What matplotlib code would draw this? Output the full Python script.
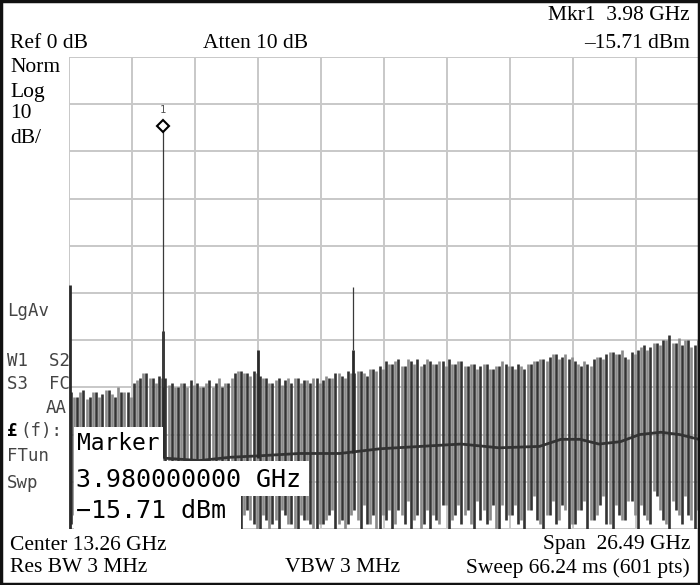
import matplotlib
matplotlib.use("Agg")
import matplotlib.pyplot as plt
from matplotlib.patches import Rectangle
import matplotlib.transforms as mtransforms

W, H = 700, 585

# ---- instrument settings ----
center_ghz = 13.26
span_ghz = 26.49
ref_db = 0.0
db_per_div = 10.0
n_div = 10

# ---- marker ----
mkr_freq = 3.98
mkr_level = -15.71

# ---- noise trace tops / bottoms (dB), 100 bars per trace ----
dark_top = [-71, -72, -70.5, -72, -71, -71.5, -70.5, -72, -71, -71,
            -69, -68, -67, -68, -67.5, -68, -69, -70, -69, -68.5,
            -69, -70, -68.5, -69, -70, -69, -67, -66.5, -67, -66.5,
            -67.5, -68, -69, -68, -68.5, -69, -68, -68.5, -69, -68,
            -68.5, -68, -67, -67.5, -66.5, -67, -66.5, -67.5, -66, -65.5,
            -64.5, -65, -64, -65.5, -64.5, -64, -65, -64.5, -65, -64.5,
            -64, -65, -64.5, -65.5, -65, -65.5, -65, -66, -65.5, -65,
            -65.5, -65, -66, -65, -64.5, -64, -63.5, -63, -63.5, -64,
            -64.5, -65.5, -65, -64, -63.5, -63, -62.5, -63, -63.5, -62.5,
            -62, -61, -61.5, -60.5, -60, -59, -60.5, -61, -60, -61]
gray_top = [-72, -71, -72.5, -71, -72, -70.5, -71.5, -70, -71, -72,
            -68.5, -67, -68, -69, -68, -69.5, -70, -69, -70, -69.5,
            -70, -69, -70, -68, -69, -68, -66.5, -67, -67.5, -67,
            -68, -69, -68.5, -69.5, -68, -68, -69, -68.5, -68, -69,
            -67.5, -68, -67, -68, -67, -66.5, -67, -66, -66.5, -66,
            -65, -64.5, -65.5, -64, -65, -65.5, -64, -65, -64.5, -65.5,
            -65, -64.5, -65.5, -65, -66, -65, -66, -65.5, -64.5, -65.5,
            -66, -65.5, -65, -64.5, -64, -64.5, -63, -64, -63, -63.5,
            -65, -64.5, -65.5, -63.5, -64, -62.5, -63, -62, -64, -63,
            -61.5, -62, -60.5, -61, -60, -60.5, -59.5, -60, -61.5, -60]
dark_bot = [-99, -100, -98, -100, -99, -100, -97, -100, -99, -98,
            -100, -99, -98, -100, -99, -97, -100, -98, -99, -100,
            -98, -100, -99, -97, -100, -99, -98, -100, -96, -99,
            -100, -98, -99, -100, -97, -99, -100, -98, -99, -100,
            -99, -97, -100, -98, -99, -96, -100, -99, -97, -100,
            -98, -100, -96, -99, -100, -97, -99, -100, -98, -95,
            -100, -97, -99, -96, -100, -98, -99, -95, -100, -98,
            -97, -99, -100, -96, -98, -100, -97, -99, -95, -100,
            -99, -96, -100, -98, -95, -99, -100, -97, -98, -94,
            -100, -97, -99, -93, -98, -100, -96, -99, -97, -100]
gray_bot = [-97, -99, -100, -98, -99, -97, -100, -98, -99, -100,
            -98, -100, -97, -99, -98, -100, -99, -97, -100, -98,
            -99, -97, -100, -98, -96, -100, -99, -97, -98, -100,
            -97, -100, -98, -96, -99, -100, -97, -98, -100, -99,
            -98, -96, -99, -100, -97, -98, -95, -99, -100, -97,
            -96, -99, -97, -94, -98, -100, -96, -97, -99, -95,
            -98, -95, -97, -99, -94, -96, -98, -100, -95, -97,
            -95, -98, -96, -93, -99, -97, -94, -98, -96, -99,
            -96, -94, -98, -97, -93, -99, -95, -98, -94, -97,
            -95, -98, -92, -96, -99, -94, -97, -93, -98, -96]

# ---- dark mid-level band (averaged trace) ----
mid_freq = [4.05, 5.5, 6.8, 8.0, 9.7, 11.4, 13.1, 14.8, 16.5, 18.1,
            19.8, 20.7, 21.5, 22.3, 23.2, 24.0, 24.9, 25.7, 26.5]
mid_level = [-85, -85.5, -84.8, -84.5, -84, -84, -83, -82.5, -82, -82.8,
             -82.5, -81, -81, -82, -81.5, -80, -79.5, -80, -81]

# ---- discrete spurs / harmonics ----
spur_freq = [0.06, 3.98, 7.96, 11.94]
spur_top_thick = [-48.4, -58, -62, -62]
spur_bot_thick = [-100, -85, -85, -84]
thin_freq = [3.98, 11.94]
thin_top = [-15.71, -48.8]
thin_bot = [-70, -62]

# ---------------------------------------------------------------
fig = plt.figure(figsize=(W / 100, H / 100), dpi=100)
fig.patch.set_facecolor("white")

def fx(x):
    return x / W

def fy(y):
    return 1 - y / H

ax_l, ax_r, ax_t, ax_b = 69, 699, 57, 529
ax = fig.add_axes([fx(ax_l), fy(ax_b), (ax_r - ax_l) / W, (ax_b - ax_t) / H])
f0 = center_ghz - span_ghz / 2
f1 = center_ghz + span_ghz / 2
ax.set_xlim(f0, f1)
ax.set_ylim(ref_db - n_div * db_per_div, ref_db)
ax.set_xticks([f0 + i * span_ghz / n_div for i in range(n_div + 1)])
ax.set_yticks([ref_db - i * db_per_div for i in range(n_div + 1)])
ax.tick_params(length=0, labelbottom=False, labelleft=False)
for s in ax.spines.values():
    s.set_visible(False)
ax.grid(True, color="#c8c8c8", linewidth=1.4, zorder=0)
ax.set_axisbelow(True)

step = span_ghz / len(dark_top)
xd = [f0 + (k + 0.3) * step for k in range(len(dark_top))]
xg = [f0 + (k + 0.8) * step for k in range(len(gray_top))]
ax.vlines(xg, gray_bot, gray_top, color="#8a8a8a", linewidth=1.9, zorder=2)
ax.plot(mid_freq, mid_level, color="#333333", linewidth=2.0, zorder=2.5)
ax.vlines(xd, dark_bot, dark_top, color="#333333", linewidth=1.9, zorder=3)
ax.vlines(spur_freq, spur_bot_thick, spur_top_thick, color="#2a2a2a", linewidth=2.0, zorder=4)
ax.vlines(thin_freq, thin_bot, thin_top, color="#3a3a3a", linewidth=0.9, zorder=4)

# marker diamond and label
off = mtransforms.offset_copy(ax.transData, fig=fig, x=0, y=5, units="dots")
ax.plot([mkr_freq], [mkr_level], marker="D", markersize=6.5, markerfacecolor="white",
        markeredgecolor="black", markeredgewidth=1.5, transform=off, zorder=6,
        clip_on=False)
off2 = mtransforms.offset_copy(ax.transData, fig=fig, x=0, y=21, units="dots")
ax.text(mkr_freq, mkr_level, "1", transform=off2, ha="center", va="center",
        fontsize=7.5, color="#555555", family="DejaVu Sans Mono", zorder=6)

# ---- marker readout box ----
box_specs = [(74, 427, 163, 461), (74, 461, 309, 496), (74, 496, 241, 529)]
for (x0, y0, x1, y1) in box_specs:
    fig.add_artist(Rectangle((fx(x0), fy(y1)), (x1 - x0) / W, (y1 - y0) / H,
                             transform=fig.transFigure, facecolor="white",
                             edgecolor="none", zorder=10))
mono = "DejaVu Sans Mono"
fig.text(fx(77), fy(444), "Marker", fontsize=16.5, family=mono, va="center",
         ha="left", color="black", zorder=11)
fig.text(fx(76), fy(480), "3.980000000 GHz", fontsize=18, family=mono, va="center",
         ha="left", color="black", zorder=11)
fig.text(fx(76), fy(511), "\u221215.71 dBm", fontsize=18, family=mono, va="center",
         ha="left", color="black", zorder=11)

# ---- annotation texts (serif) ----
serif = "Liberation Serif"
fs = 15.5
fig.text(fx(690), fy(16), "Mkr1  3.98 GHz", fontsize=fs, family=serif, ha="right", va="center")
fig.text(fx(690), fy(43), "\u201315.71 dBm", fontsize=fs, family=serif, ha="right", va="center")
fig.text(fx(10), fy(43), "Ref 0 dB", fontsize=fs, family=serif, ha="left", va="center")
fig.text(fx(203), fy(43), "Atten 10 dB", fontsize=fs, family=serif, ha="left", va="center")
for lbl, yy in [("Norm", 68), ("Log", 92), ("10", 114), ("dB/", 138)]:
    fig.text(fx(10), fy(yy), lbl, fontsize=fs, family=serif, ha="left", va="center")
fig.text(fx(10), fy(545), "Center 13.26 GHz", fontsize=fs, family=serif, ha="left", va="center")
fig.text(fx(690), fy(545), "Span  26.49 GHz", fontsize=fs, family=serif, ha="right", va="center")
fig.text(fx(10), fy(568), "Res BW 3 MHz", fontsize=fs, family=serif, ha="left", va="center")
fig.text(fx(285), fy(568), "VBW 3 MHz", fontsize=fs, family=serif, ha="left", va="center")
fig.text(fx(690), fy(568), "Sweep 66.24 ms (601 pts)", fontsize=fs, family=serif, ha="right", va="center")

# ---- left status labels (instrument mono font) ----
side_col = "#444444"
sfs = 12.5
fig.text(fx(7), fy(311), "LgAv", fontsize=sfs, family=mono, color=side_col, va="center")
fig.text(fx(7), fy(361), "W1  S2", fontsize=sfs, family=mono, color=side_col, va="center")
fig.text(fx(7), fy(384), "S3  FC", fontsize=sfs, family=mono, color=side_col, va="center")
fig.text(fx(67), fy(408), "AA", fontsize=sfs, family=mono, color=side_col, va="center", ha="right")
fig.text(fx(7), fy(431), "\u00a3", fontsize=sfs, family=mono, color="black", va="center",
         fontweight="bold")
fig.text(fx(20), fy(431), "(f):", fontsize=sfs, family=mono, color=side_col, va="center")
fig.text(fx(7), fy(456), "FTun", fontsize=sfs, family=mono, color=side_col, va="center")
fig.text(fx(7), fy(483), "Swp", fontsize=sfs, family=mono, color=side_col, va="center")

# outer frame
fig.add_artist(Rectangle((0.002, 0.002), 0.996, 0.996, transform=fig.transFigure,
                         facecolor="none", edgecolor="#111111", linewidth=2.5, zorder=20))

fig.savefig("out.png", dpi=100, facecolor="white")
